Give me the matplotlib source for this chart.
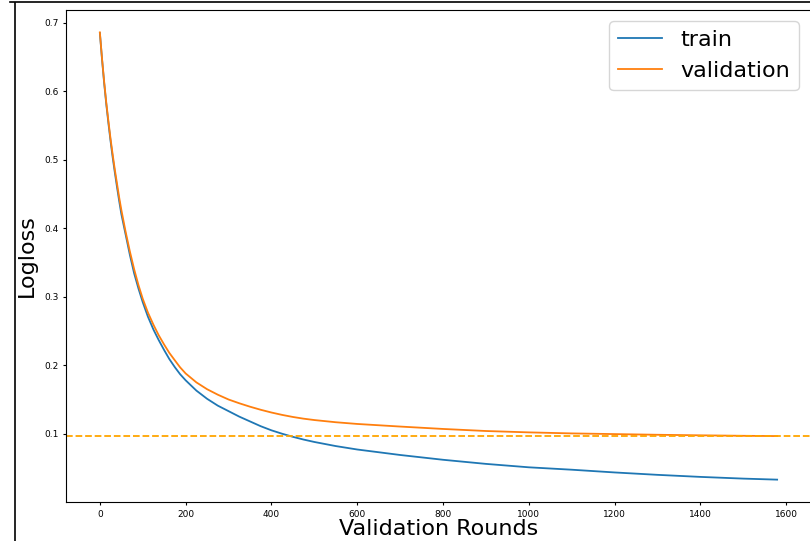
import matplotlib.pyplot as plt
from matplotlib.lines import Line2D
import numpy as np

# logloss per boosting round
rounds = [0, 5, 10, 15, 20, 25, 30, 35, 40, 45, 50, 60, 70, 80, 90, 100, 112, 125,
          137, 150, 162, 175, 187, 200, 225, 250, 275, 300, 325, 350, 375, 400, 425,
          450, 475, 500, 550, 600, 700, 800, 900, 1000, 1100, 1200, 1300, 1400, 1500,
          1579]
train_loss = [0.685, 0.647, 0.612, 0.581, 0.553, 0.527, 0.503, 0.481, 0.460, 0.440,
              0.421, 0.391, 0.361, 0.334, 0.312, 0.292, 0.271, 0.252, 0.237, 0.222,
              0.209, 0.197, 0.187, 0.178, 0.163, 0.151, 0.141, 0.133, 0.125, 0.118,
              0.111, 0.105, 0.100, 0.0955, 0.0915, 0.088, 0.082, 0.077, 0.069, 0.062,
              0.056, 0.051, 0.0475, 0.0435, 0.040, 0.037, 0.0345, 0.033]
valid_loss = [0.686, 0.648, 0.614, 0.583, 0.556, 0.530, 0.507, 0.485, 0.465, 0.445,
              0.427, 0.395, 0.366, 0.340, 0.317, 0.297, 0.277, 0.259, 0.244, 0.230,
              0.218, 0.207, 0.197, 0.188, 0.175, 0.165, 0.157, 0.150, 0.1445, 0.1395,
              0.135, 0.131, 0.1275, 0.1245, 0.122, 0.120, 0.1168, 0.1143, 0.1105, 0.107,
              0.104, 0.102, 0.1005, 0.0995, 0.0985, 0.0977, 0.097, 0.0966]

fig = plt.figure(figsize=(8.1, 5.41), dpi=100)
ax = fig.add_axes([66 / 810, 39 / 541, 745 / 810, 492 / 541])

ax.plot(rounds, train_loss, label='train', lw=1.3)
ax.plot(rounds, valid_loss, label='validation', lw=1.3)
# best validation score
ax.axhline(min(valid_loss), color='orange', linestyle='--', lw=1.3)

ax.set_xlabel('Validation Rounds', fontsize=16, labelpad=0)
ax.set_ylabel('Logloss', fontsize=16, labelpad=5)
ax.tick_params(labelsize=6.5, length=2.5, pad=3)
ax.spines['right'].set_visible(False)
ax.legend(fontsize=16, loc='upper right', bbox_to_anchor=(744 / 745, 1))

# notebook cell border
fig.add_artist(Line2D([10 / 810, 1], [1 - 1.5 / 541] * 2, color='black', lw=1.2))
fig.add_artist(Line2D([14.5 / 810] * 2, [0, 1 - 3 / 541], color='black', lw=1.2))

fig.savefig('out.png', dpi=100)
